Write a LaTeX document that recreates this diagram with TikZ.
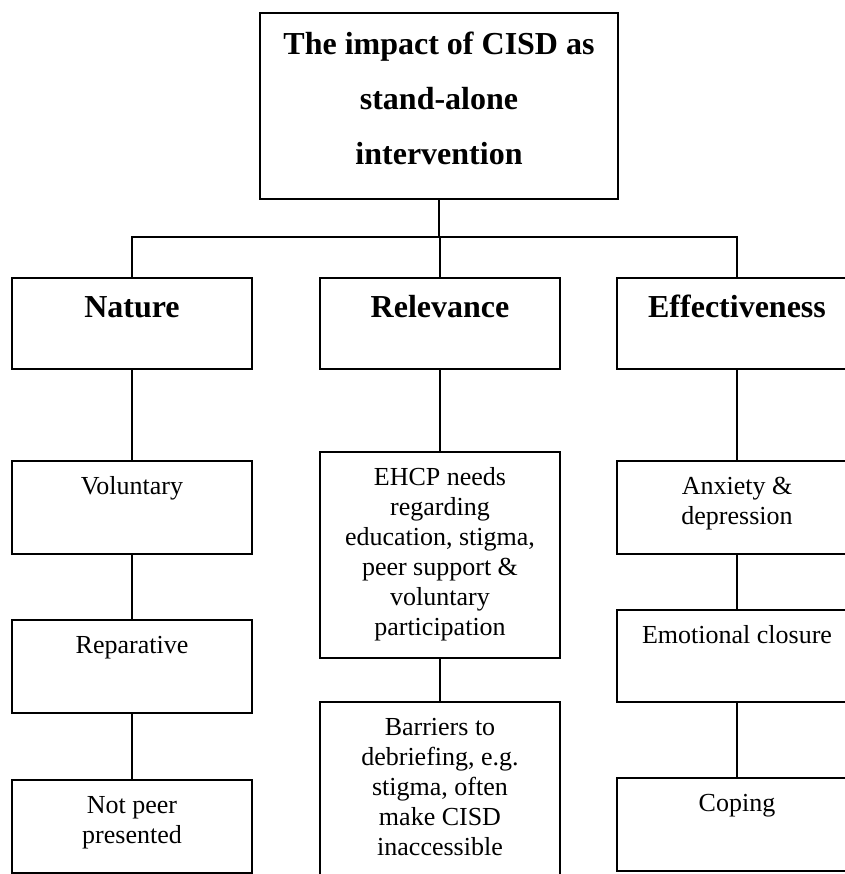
\documentclass[tikz,border=0pt]{standalone}
\usepackage{fontspec}
\setmainfont{Liberation Serif}

\tikzset{every picture/.style={line width=1.2pt}}
\tikzset{
  boxnode/.style={draw, line width=1.4pt, anchor=north, align=flush center, inner xsep=0pt, inner ysep=0pt, font=\fontsize{19.5}{22.5}\selectfont},
  leafbox/.style={boxnode, text width=180pt, text height=25.5pt, text depth=#1},
  leafbox/.default=44.25pt,
  headbox/.style={boxnode, text width=180pt, text height=30pt, text depth=38.25pt, font=\fontsize{24}{41}\selectfont\bfseries},
}

\begin{document}
\begin{tikzpicture}[x=0.75pt,y=0.75pt,yscale=-1,xscale=1]
    \useasboundingbox (0,0) rectangle (845,874);
    \clip (0,0) rectangle (845,874);

    %Shape: Title box
    \node [boxnode, text width=268.5pt, text height=31.5pt, text depth=108pt, font=\fontsize{24}{41}\selectfont\bfseries] (impact) at (439,12) {The impact of CISD as\\stand-alone\\intervention};

    % Heading boxes
    \node [headbox] (nature) at (132,277) {Nature};
    \node [headbox] (relev) at (440,277) {Relevance};
    \node [headbox] (effect) at (737,277) {Effectiveness};

    % Nature column
    \node [leafbox] (volun) at (132,460) {Voluntary};
    \node [leafbox] (repar) at (132,619) {Reparative};
    \node [leafbox] (notpeer) at (132,779) {Not peer\\presented};

    % Relevance column
    \node [leafbox=129pt] (ehcp) at (440,451) {EHCP needs\\regarding\\education, stigma,\\peer support \&\\voluntary\\participation};
    \node [leafbox=116pt] (barrier) at (440,701) {Barriers to\\debriefing, e.g.\\stigma, often\\make CISD\\inaccessible};

    % Effectiveness column
    \node [leafbox] (anxiety) at (737,460) {Anxiety \&\\depression};
    \node [leafbox=43.5pt] (closure) at (737,609) {Emotional closure};
    \node [leafbox] (coping) at (737,777) {Coping};

    %Straight Lines: tree
    \coordinate (bar) at (439,237);
    \draw (impact.south) -- (bar);
    \draw (nature.north) |- (bar) -| (effect.north);
    \draw (relev.north) -- (relev.north |- bar);

    %Straight Lines: columns
    \draw (nature.south) -- (volun.north);
    \draw (volun.south) -- (repar.north);
    \draw (repar.south) -- (notpeer.north);
    \draw (relev.south) -- (ehcp.north);
    \draw (ehcp.south) -- (barrier.north);
    \draw (effect.south) -- (anxiety.north);
    \draw (anxiety.south) -- (closure.north);
    \draw (closure.south) -- (coping.north);

\end{tikzpicture}
\end{document}
